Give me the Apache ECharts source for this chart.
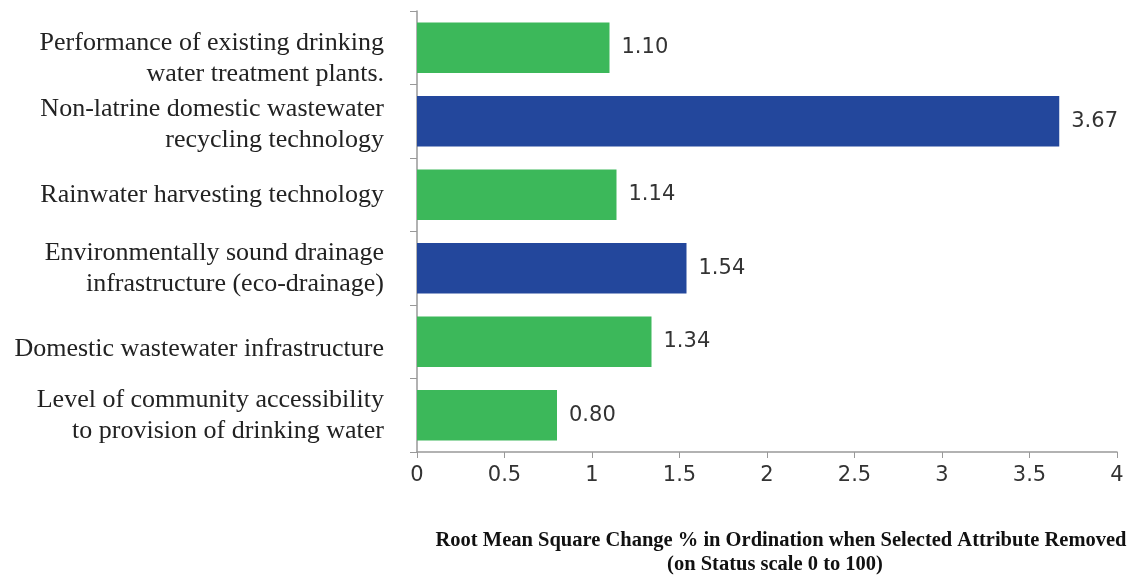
<!DOCTYPE html>
<html>
<head>
<meta charset="utf-8">
<script src="https://cdn.jsdelivr.net/npm/echarts@6/dist/echarts.min.js"></script>
<style>html,body{margin:0;padding:0;background:#fff;}#c{width:1129px;height:580px;}</style>
</head>
<body>
<div id="c"></div>
<script>
var categories = [
  'Performance of existing drinking\nwater treatment plants.',
  'Non-latrine domestic wastewater\nrecycling technology',
  'Rainwater harvesting technology',
  'Environmentally sound drainage\ninfrastructure (eco-drainage)',
  'Domestic wastewater infrastructure',
  'Level of community accessibility\nto provision of drinking water'
];
var values = [1.10, 3.67, 1.14, 1.54, 1.34, 0.80];
var xTicks = [0, 0.5, 1, 1.5, 2, 2.5, 3, 3.5, 4];
var titleLines = [
  'Root Mean Square Change % in Ordination when Selected Attribute Removed',
  '(on Status scale 0 to 100)'
];

// styling (kept apart from data)
var GREEN = '#3cb85a', BLUE = '#23479c';
var barColors = [GREEN, BLUE, GREEN, BLUE, GREEN, GREEN];
var labelShiftDown = [11, 3, 0, 0, 7, 0];

var rich = {};
labelShiftDown.forEach(function (s) {
  if (s > 0) rich['g' + s] = { fontSize: 1, lineHeight: s * 2 };
});

var chart = echarts.init(document.getElementById('c'));
chart.setOption({
  animation: false,
  backgroundColor: '#fff',
  grid: { left: 417, right: 12, top: 11, bottom: 128, containLabel: false },
  xAxis: {
    type: 'value', min: 0, max: 4, interval: 0.5,
    axisLine: { show: true, lineStyle: { color: '#999', width: 1.5 } },
    axisTick: { show: true, length: 6, lineStyle: { color: '#999' } },
    splitLine: { show: false },
    axisLabel: { fontFamily: 'DejaVu Sans', fontSize: 21, color: '#333', margin: 13,
      formatter: function (v) { return xTicks.indexOf(v) >= 0 ? String(v) : ''; } }
  },
  yAxis: {
    type: 'category', inverse: true, data: categories,
    axisLine: { show: true, lineStyle: { color: '#999', width: 1.5 } },
    axisTick: { show: true, length: 7, lineStyle: { color: '#999' } },
    axisLabel: { interval: 0, fontFamily: 'Liberation Serif', fontSize: 26, color: '#222', margin: 33,
      lineHeight: 31, align: 'right', rich: rich,
      formatter: function (v, i) {
        var s = labelShiftDown[i];
        return s > 0 ? '{g' + s + '| }\n' + v : v;
      } }
  },
  series: [{
    type: 'bar',
    data: values.map(function (v, i) { return { value: v, itemStyle: { color: barColors[i] } }; }),
    barCategoryGap: '31%',
    label: { show: true, position: 'right', distance: 12, fontFamily: 'DejaVu Sans',
      fontSize: 21, color: '#333', formatter: function (p) { return p.value.toFixed(2); } }
  }],
  graphic: [
    { type: 'text', x: 781, y: 541, style: { text: titleLines[0], fontFamily: 'Liberation Serif',
      fontWeight: 'bold', fontSize: 20.5, fill: '#111', align: 'center', verticalAlign: 'middle' } },
    { type: 'text', x: 775, y: 565, style: { text: titleLines[1], fontFamily: 'Liberation Serif',
      fontWeight: 'bold', fontSize: 20.5, fill: '#111', align: 'center', verticalAlign: 'middle' } }
  ]
});
</script>
</body>
</html>
